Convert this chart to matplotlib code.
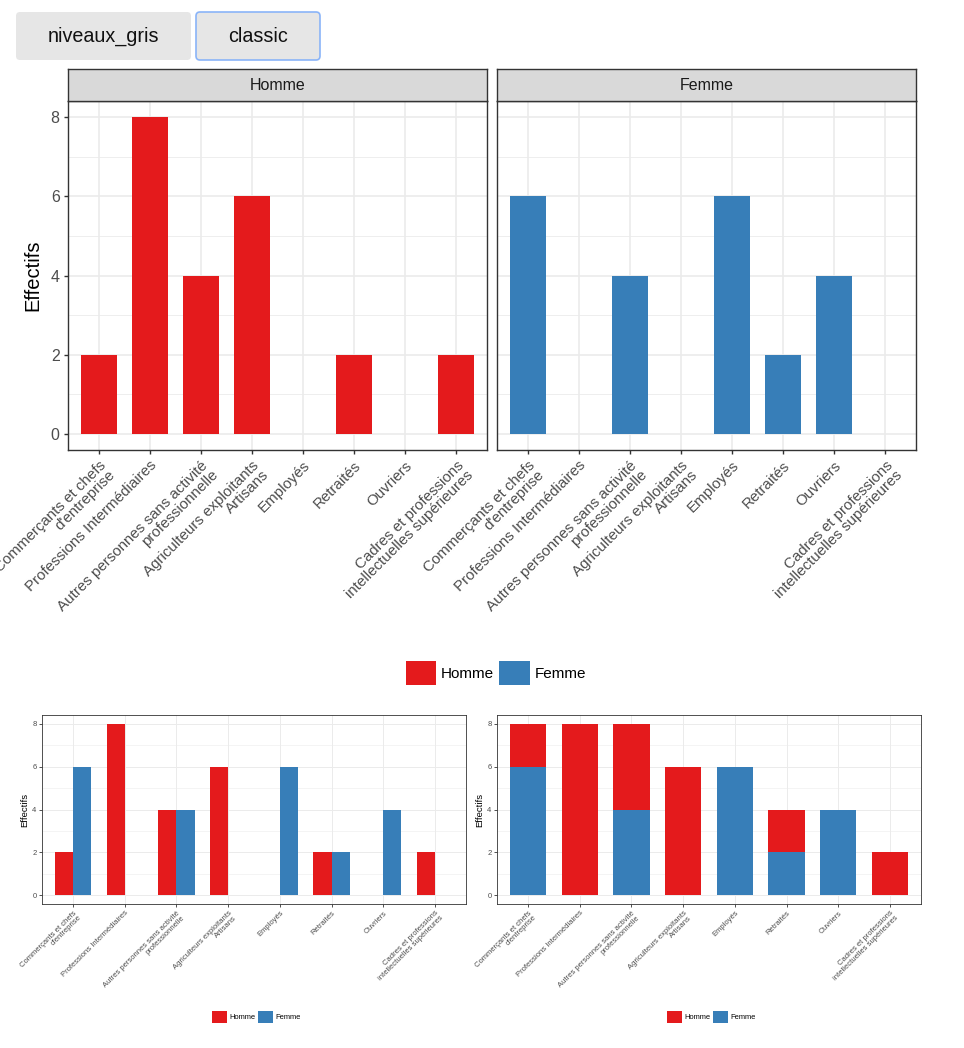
import matplotlib
matplotlib.use("Agg")
import matplotlib.pyplot as plt
from matplotlib.patches import FancyBboxPatch, Patch
import numpy as np

plt.rcParams['font.family'] = ['Liberation Sans', 'DejaVu Sans']

# ---------------------------------------------------------------------------------------
# donnees
#
categories = ["Commerçants et chefs\nd'entreprise",
              "Professions Intermédiaires",
              "Autres personnes sans activité\nprofessionnelle",
              "Agriculteurs exploitants\nArtisans",
              "Employés",
              "Retraités",
              "Ouvriers",
              "Cadres et professions\nintellectuelles supérieures"]
homme = [2, 8, 4, 6, 0, 2, 0, 2]
femme = [6, 0, 4, 0, 6, 2, 4, 0]
sexes = ["Homme", "Femme"]
couleurs = ["#E41A1C", "#377EB8"]
y_ticks = [0, 2, 4, 6, 8]
y_minor = [1, 3, 5, 7]
boutons = ["niveaux_gris", "classic"]

W, H = 964, 1048
DPI = 100


def box(x0, y0, x1, y1):
    # pixels (origine en haut a gauche) -> fraction de figure
    return [x0 / W, 1 - y1 / H, (x1 - x0) / W, (y1 - y0) / H]


def style_panel(ax, fs, tick_len, pad, lw, show_y=True):
    x = np.arange(1, len(categories) + 1)
    ax.set_xlim(0.4, len(categories) + 0.6)
    ax.set_ylim(-0.4, 8.4)
    ax.set_xticks(x)
    ax.set_yticks(y_ticks)
    ax.set_yticks(y_minor, minor=True)
    ax.grid(True, which='major', color='#EBEBEB', lw=lw * 1.2)
    ax.grid(True, which='minor', axis='y', color='#EBEBEB', lw=lw * 0.6)
    ax.set_axisbelow(True)
    for s in ax.spines.values():
        s.set_color('#333333')
        s.set_linewidth(lw)
    ax.tick_params(which='major', length=tick_len, width=lw, color='#333333',
                   labelsize=fs, labelcolor='#4D4D4D', pad=pad)
    ax.tick_params(which='minor', length=0)
    ax.set_xticklabels(categories, rotation=45, ha='right', va='top',
                       rotation_mode='anchor', linespacing=0.95)
    if not show_y:
        ax.tick_params(axis='y', left=False, labelleft=False)


fig = plt.figure(figsize=(W / DPI, H / DPI), dpi=DPI)

#
# boutons
#
ov = fig.add_axes([0, 0, 1, 1])
ov.set_xlim(0, W)
ov.set_ylim(H, 0)
ov.axis('off')
ov.patch.set_alpha(0)
bx = [(16, 191, None), (196, 320, '#8AB4F8')]
for nom, (x0, x1, bord) in zip(boutons, bx):
    p = FancyBboxPatch((x0, 12), x1 - x0, 48, boxstyle="round,pad=0,rounding_size=4",
                       facecolor='#E6E6E6', edgecolor=bord if bord else 'none', lw=1.2)
    ov.add_patch(p)
    ov.text((x0 + x1) / 2, 36, nom, ha='center', va='center', fontsize=14.2, color='#111111')

#
# graphique principal : facettes Homme / Femme
#
x = np.arange(1, len(categories) + 1)
panels = [(68, 487), (497, 916)]
for k, (sexe, vals, col, (x0, x1)) in enumerate(zip(sexes, [homme, femme], couleurs, panels)):
    ax = fig.add_axes(box(x0, 101, x1, 450))
    ax.bar(x, vals, width=0.7, color=col, zorder=2)
    style_panel(ax, 10.9, 3, 3, 1.0, show_y=(k == 0))
    if k == 0:
        ax.tick_params(axis='y', labelsize=11.5)
        ax.set_ylabel('Effectifs', fontsize=14.5, color='black', labelpad=6)
    st = fig.add_axes(box(x0, 69, x1, 101))
    st.set_facecolor('#D9D9D9')
    st.set_xticks([])
    st.set_yticks([])
    for s in st.spines.values():
        s.set_color('#333333')
        s.set_linewidth(1.0)
    st.text(0.5, 0.5, sexe, ha='center', va='center', fontsize=11.5, color='#1A1A1A',
            transform=st.transAxes)

poignees = [Patch(facecolor=c, label=s) for s, c in zip(sexes, couleurs)]
fig.legend(handles=poignees, loc='center', bbox_to_anchor=(496 / W, 1 - 673 / H), ncol=2,
           frameon=False, fontsize=11, handlelength=2.0, handleheight=2.0,
           handletextpad=0.3, columnspacing=0.35, borderpad=0, borderaxespad=0)

#
# graphique en barres cote a cote
#
ax = fig.add_axes(box(42, 715, 466, 904))
ax.bar(x - 0.175, homme, width=0.35, color=couleurs[0], zorder=2)
ax.bar(x + 0.175, femme, width=0.35, color=couleurs[1], zorder=2)
style_panel(ax, 5.5, 2, 2, 0.6)
ax.set_ylabel('Effectifs', fontsize=6.8, color='black', labelpad=2)
fig.legend(handles=poignees, loc='center', bbox_to_anchor=(256 / W, 1 - 1017 / H), ncol=2,
           frameon=False, fontsize=5.4, handlelength=2.0, handleheight=2.0,
           handletextpad=0.3, columnspacing=0.35, borderpad=0, borderaxespad=0)

#
# graphique en barres empilees
#
ax = fig.add_axes(box(497, 715, 921, 904))
ax.bar(x, femme, width=0.7, color=couleurs[1], zorder=2)
ax.bar(x, homme, width=0.7, bottom=femme, color=couleurs[0], zorder=2)
style_panel(ax, 5.5, 2, 2, 0.6)
ax.set_ylabel('Effectifs', fontsize=6.8, color='black', labelpad=2)
fig.legend(handles=poignees, loc='center', bbox_to_anchor=(711 / W, 1 - 1017 / H), ncol=2,
           frameon=False, fontsize=5.4, handlelength=2.0, handleheight=2.0,
           handletextpad=0.3, columnspacing=0.35, borderpad=0, borderaxespad=0)

fig.savefig('out.png', dpi=DPI)
